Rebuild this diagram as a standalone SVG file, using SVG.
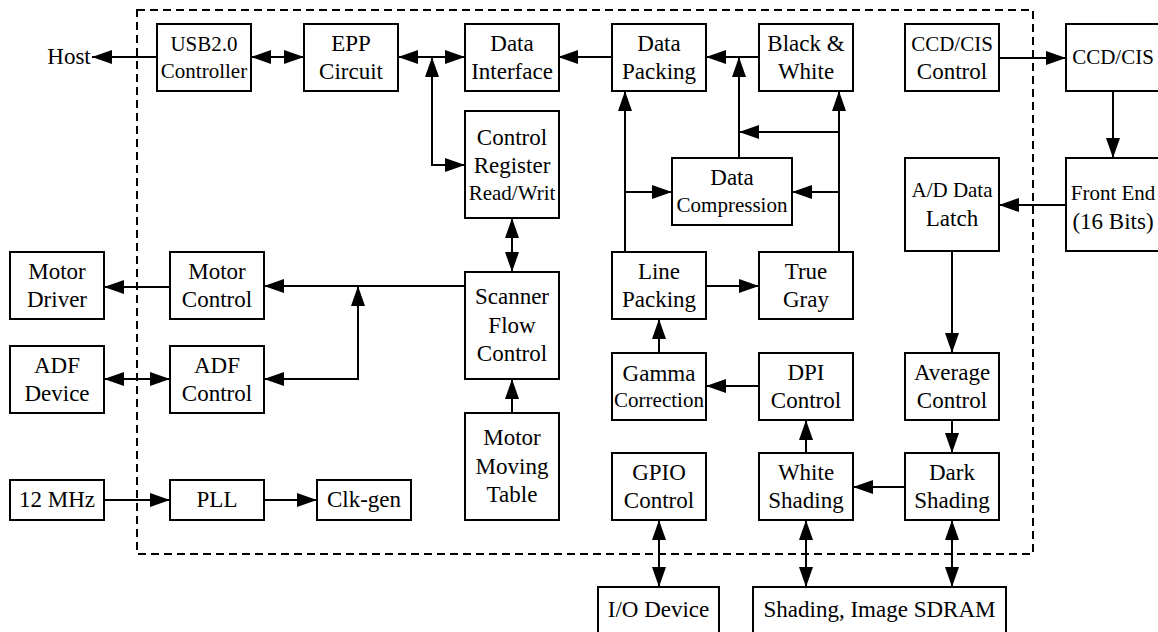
<svg xmlns="http://www.w3.org/2000/svg" width="1158" height="632" viewBox="0 0 1158 632" font-family="'Liberation Serif', 'Times New Roman', Times, 'DejaVu Serif', serif">
<style>
.b{fill:#fff;stroke:#000;stroke-width:2}
.c{fill:none;stroke:#000;stroke-width:2}
.e{marker-end:url(#a)}
.s{marker-start:url(#a)}
text{font-family:'Liberation Serif','Times New Roman',Times,'DejaVu Serif',serif;font-size:23px;fill:#000;text-anchor:middle}
.m{font-size:21px}
</style>
<defs>
<marker id="a" markerUnits="userSpaceOnUse" markerWidth="20" markerHeight="14" refX="20" refY="7" orient="auto-start-reverse" viewBox="0 0 20 14"><path d="M0,0 L20,7 L0,14 z" fill="#000"/></marker>
</defs>
<rect x="137" y="10" width="896" height="544" fill="none" stroke="#000" stroke-width="2" stroke-dasharray="8 5"/>
<g id="connectors">
<path class="c e" d="M157,57 H92"/>
<path class="c s e" d="M251,57 H304"/>
<path class="c s e" d="M398,57 H465"/>
<path class="c s e" d="M432,57 V165 H465"/>
<path class="c e" d="M612,57 H558"/>
<path class="c e" d="M759,57 H706"/>
<path class="c e" d="M739,158 V57"/>
<path class="c e" d="M839,252 V91"/>
<path class="c e" d="M839,132 H739"/>
<path class="c e" d="M839,192 H792"/>
<path class="c e" d="M625,252 V91"/>
<path class="c e" d="M625,192 H672"/>
<path class="c e" d="M999,58 H1066"/>
<path class="c e" d="M1113,91 V158"/>
<path class="c e" d="M1066,205 H999"/>
<path class="c e" d="M952,251 V353"/>
<path class="c e" d="M952,420 V453"/>
<path class="c e" d="M905,487 H853"/>
<path class="c e" d="M806,453 V420"/>
<path class="c e" d="M759,386 H706"/>
<path class="c e" d="M659,353 V319"/>
<path class="c e" d="M706,286 H759"/>
<path class="c s e" d="M512,218 V272"/>
<path class="c e" d="M512,413 V379"/>
<path class="c e" d="M465,286 H264"/>
<path class="c s e" d="M358,286 V379 H264"/>
<path class="c e" d="M170,287 H104"/>
<path class="c s e" d="M104,379 H170"/>
<path class="c e" d="M104,500 H170"/>
<path class="c e" d="M264,500 H317"/>
<path class="c s e" d="M659,520 V587"/>
<path class="c s e" d="M806,520 V587"/>
<path class="c s e" d="M952,520 V587"/>
</g>
<g id="host"><text x="69" y="64">Host</text></g>
<g id="usb"><rect class="b" x="157" y="24" width="94" height="67"/><text class="m" x="204" y="51">USB2.0</text><text class="m" x="204" y="78">Controller</text></g>
<g id="epp"><rect class="b" x="304" y="24" width="94" height="67"/><text x="351" y="51">EPP</text><text x="351" y="79">Circuit</text></g>
<g id="di"><rect class="b" x="465" y="24" width="94" height="67"/><text x="512" y="51">Data</text><text x="512" y="79">Interface</text></g>
<g id="dp"><rect class="b" x="612" y="24" width="94" height="67"/><text x="659" y="51">Data</text><text x="659" y="79">Packing</text></g>
<g id="bw"><rect class="b" x="759" y="24" width="94" height="67"/><text x="806" y="51">Black &amp;</text><text x="806" y="79">White</text></g>
<g id="ccdctl"><rect class="b" x="905" y="24" width="94" height="67"/><text class="m" x="952" y="51">CCD/CIS</text><text x="952" y="79">Control</text></g>
<g id="ccd"><rect class="b" x="1066" y="24" width="94" height="67"/><text class="m" x="1113" y="64">CCD/CIS</text></g>
<g id="cr"><rect class="b" x="465" y="111" width="94" height="107"/><text x="512" y="145">Control</text><text x="512" y="173">Register</text><text class="m" x="512" y="200">Read/Writ</text></g>
<g id="dc"><rect class="b" x="672" y="158" width="120" height="67"/><text x="732" y="185">Data</text><text class="m" x="732" y="212">Compression</text></g>
<g id="adl"><rect class="b" x="905" y="158" width="94" height="93"/><text class="m" x="952" y="197">A/D Data</text><text x="952" y="226">Latch</text></g>
<g id="fe"><rect class="b" x="1066" y="158" width="94" height="93"/><text class="m" x="1113" y="200">Front End</text><text x="1113" y="229">(16 Bits)</text></g>
<g id="md"><rect class="b" x="10" y="252" width="94" height="67"/><text x="57" y="279">Motor</text><text x="57" y="307">Driver</text></g>
<g id="mc"><rect class="b" x="170" y="252" width="94" height="67"/><text x="217" y="279">Motor</text><text x="217" y="307">Control</text></g>
<g id="sfc"><rect class="b" x="465" y="272" width="94" height="107"/><text x="512" y="304">Scanner</text><text x="512" y="333">Flow</text><text x="512" y="361">Control</text></g>
<g id="lp"><rect class="b" x="612" y="252" width="94" height="67"/><text x="659" y="279">Line</text><text x="659" y="307">Packing</text></g>
<g id="tg"><rect class="b" x="759" y="252" width="94" height="67"/><text x="806" y="279">True</text><text x="806" y="307">Gray</text></g>
<g id="adfd"><rect class="b" x="10" y="346" width="94" height="67"/><text x="57" y="373">ADF</text><text x="57" y="401">Device</text></g>
<g id="adfc"><rect class="b" x="170" y="346" width="94" height="67"/><text x="217" y="373">ADF</text><text x="217" y="401">Control</text></g>
<g id="gc"><rect class="b" x="612" y="353" width="94" height="67"/><text x="659" y="381">Gamma</text><text class="m" x="659" y="407">Correction</text></g>
<g id="dpi"><rect class="b" x="759" y="353" width="94" height="67"/><text x="806" y="380">DPI</text><text x="806" y="408">Control</text></g>
<g id="avg"><rect class="b" x="905" y="353" width="94" height="67"/><text x="952" y="380">Average</text><text x="952" y="408">Control</text></g>
<g id="mmt"><rect class="b" x="465" y="413" width="94" height="107"/><text x="512" y="445">Motor</text><text x="512" y="474">Moving</text><text x="512" y="502">Table</text></g>
<g id="gpio"><rect class="b" x="612" y="453" width="94" height="67"/><text x="659" y="480">GPIO</text><text x="659" y="508">Control</text></g>
<g id="ws"><rect class="b" x="759" y="453" width="94" height="67"/><text x="806" y="480">White</text><text x="806" y="508">Shading</text></g>
<g id="ds"><rect class="b" x="905" y="453" width="94" height="67"/><text x="952" y="480">Dark</text><text x="952" y="508">Shading</text></g>
<g id="mhz"><rect class="b" x="10" y="480" width="94" height="40"/><text x="57" y="507">12 MHz</text></g>
<g id="pll"><rect class="b" x="170" y="480" width="94" height="40"/><text x="217" y="507">PLL</text></g>
<g id="clkgen"><rect class="b" x="317" y="480" width="94" height="40"/><text x="364" y="507">Clk-gen</text></g>
<g id="io"><rect class="b" x="598" y="587" width="121" height="67"/><text x="658.5" y="617">I/O Device</text></g>
<g id="sdram"><rect class="b" x="753" y="587" width="253" height="67"/><text x="879.5" y="617">Shading, Image SDRAM</text></g>
</svg>
